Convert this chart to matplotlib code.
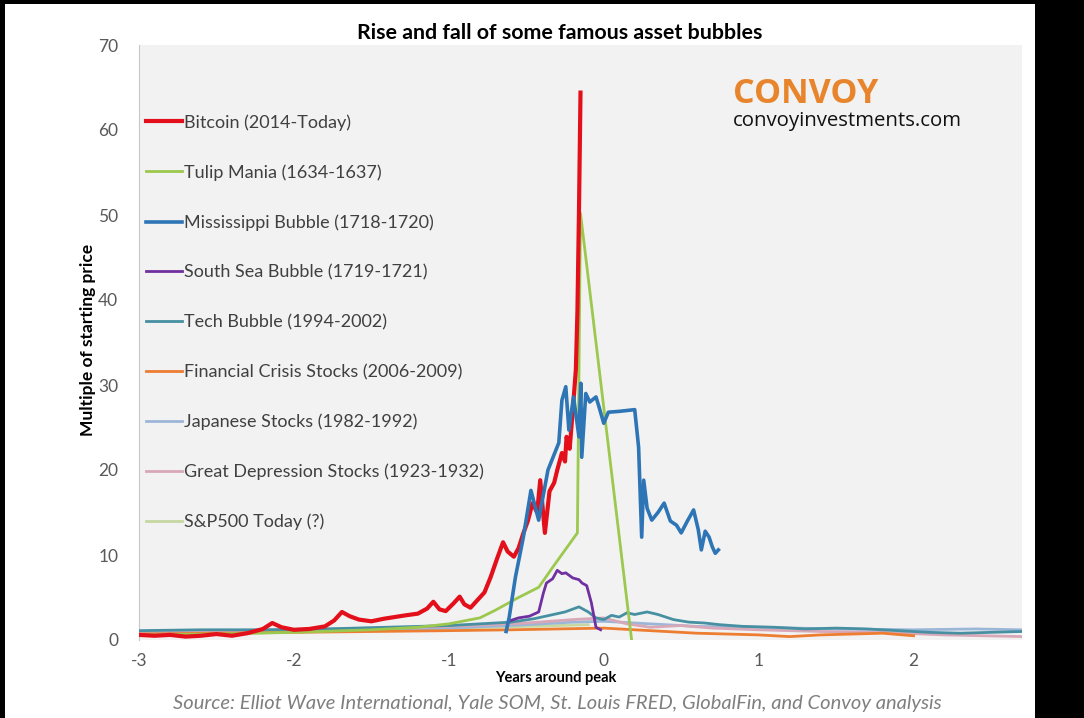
import matplotlib
matplotlib.use('Agg')
import matplotlib.pyplot as plt
from matplotlib.patches import Rectangle

plt.rcParams['font.family'] = ['Lato', 'DejaVu Sans']
plt.rcParams['axes.unicode_minus'] = False

# years around peak / multiple of starting price
bitcoin_x = [-3.0, -2.9, -2.8, -2.7, -2.6, -2.5, -2.4, -2.3, -2.2, -2.14, -2.08, -2.0, -1.9, -1.8,
             -1.74, -1.69, -1.64, -1.58, -1.5, -1.42, -1.35, -1.28, -1.2, -1.14, -1.1, -1.06, -1.02,
             -0.97, -0.93, -0.9, -0.86, -0.82, -0.77, -0.73, -0.69, -0.65, -0.62, -0.58, -0.55, -0.52,
             -0.49, -0.46, -0.43, -0.41, -0.38, -0.35, -0.32, -0.3, -0.27, -0.25, -0.24, -0.22, -0.2,
             -0.18, -0.17, -0.16, -0.15]
bitcoin_y = [0.6, 0.5, 0.6, 0.4, 0.5, 0.7, 0.5, 0.8, 1.3, 2.0, 1.5, 1.2, 1.3, 1.6,
             2.3, 3.3, 2.8, 2.4, 2.2, 2.5, 2.7, 2.9, 3.1, 3.7, 4.5, 3.6, 3.4,
             4.3, 5.1, 4.2, 3.8, 4.6, 5.6, 7.4, 9.5, 11.5, 10.4, 9.8, 10.8, 12.5,
             14.0, 16.1, 15.0, 18.8, 12.6, 17.5, 18.5, 20.0, 22.0, 21.0, 23.9, 22.5, 27.0,
             31.8, 38.5, 50.2, 64.4]

tulip_x = [-3.0, -2.5, -2.0, -1.5, -1.2, -1.0, -0.8, -0.7, -0.55, -0.42, -0.32, -0.17, -0.15, 0.18]
tulip_y = [0.6, 0.7, 0.9, 1.2, 1.5, 1.9, 2.6, 3.5, 5.0, 6.2, 8.8, 12.6, 50.2, 0.0]

missi_x = [-0.63, -0.61, -0.57, -0.52, -0.47, -0.42, -0.36, -0.29, -0.27, -0.245, -0.225, -0.195,
           -0.16, -0.148, -0.142, -0.116, -0.09, -0.05, -0.03, 0.0, 0.03, 0.1, 0.2, 0.225, 0.245,
           0.258, 0.28, 0.31, 0.35, 0.39, 0.43, 0.47, 0.5, 0.54, 0.58, 0.61, 0.63, 0.655, 0.68,
           0.7, 0.72, 0.74]
missi_y = [1.0, 2.7, 7.4, 12.0, 17.6, 14.1, 20.0, 23.2, 28.2, 29.8, 24.7, 28.6,
           23.9, 30.2, 21.5, 29.0, 28.0, 28.6, 27.4, 25.5, 26.8, 26.9, 27.1, 22.7, 12.1,
           18.8, 15.5, 14.1, 15.0, 16.1, 14.0, 13.5, 12.6, 14.0, 15.3, 13.0, 10.6, 12.8, 12.1,
           11.0, 10.2, 10.6]

south_x = [-0.6, -0.55, -0.48, -0.42, -0.39, -0.37, -0.33, -0.3, -0.27, -0.245, -0.2, -0.16,
           -0.14, -0.11, -0.08, -0.05, -0.02]
south_y = [2.3, 2.6, 2.8, 3.3, 5.5, 6.7, 7.2, 8.2, 7.8, 7.9, 7.3, 7.1, 6.7, 6.4, 4.4, 1.5, 1.2]

tech_x = [-3.0, -2.6, -2.2, -1.8, -1.4, -1.0, -0.8, -0.6, -0.45, -0.35, -0.25, -0.16, -0.1, -0.05,
          0.0, 0.05, 0.1, 0.15, 0.2, 0.28, 0.35, 0.45, 0.55, 0.65, 0.75, 0.9, 1.1, 1.3, 1.5, 1.7,
          1.9, 2.1, 2.3, 2.5, 2.7]
tech_y = [1.1, 1.2, 1.2, 1.3, 1.5, 1.7, 1.9, 2.1, 2.5, 2.9, 3.3, 3.9, 3.3, 2.6,
          2.4, 2.9, 2.7, 3.2, 3.0, 3.3, 3.0, 2.4, 2.1, 2.0, 1.8, 1.6, 1.5, 1.3, 1.4, 1.3,
          1.1, 0.9, 0.8, 0.9, 1.0]

fin_x = [-3.0, -2.5, -2.0, -1.5, -1.0, -0.6, -0.3, 0.0, 0.2, 0.4, 0.6, 0.8, 1.0, 1.2, 1.4, 1.6, 1.8, 2.0]
fin_y = [0.7, 0.8, 0.9, 1.0, 1.1, 1.2, 1.3, 1.4, 1.2, 1.0, 0.8, 0.7, 0.6, 0.4, 0.6, 0.7, 0.8, 0.5]

japan_x = [-3.0, -2.5, -2.0, -1.5, -1.0, -0.5, -0.2, 0.0, 0.3, 0.6, 1.0, 1.5, 2.0, 2.4, 2.7]
japan_y = [0.9, 0.9, 1.0, 1.2, 1.4, 1.8, 2.1, 2.2, 1.9, 1.6, 1.5, 1.3, 1.2, 1.3, 1.2]

depr_x = [-3.0, -2.5, -2.0, -1.5, -1.0, -0.5, -0.2, 0.0, 0.15, 0.3, 0.5, 0.7, 1.0, 1.4, 1.8, 2.2, 2.7]
depr_y = [1.0, 1.1, 1.2, 1.4, 1.6, 2.0, 2.4, 2.6, 1.9, 1.5, 1.7, 1.4, 1.2, 1.0, 0.9, 0.6, 0.4]

sp_x = [-3.0, -2.5, -2.0, -1.5, -1.0, -0.5, -0.1]
sp_y = [0.9, 1.0, 1.1, 1.2, 1.4, 1.6, 1.8]

labels = ['Bitcoin (2014-Today)', 'Tulip Mania (1634-1637)', 'Mississippi Bubble (1718-1720)',
          'South Sea Bubble (1719-1721)', 'Tech Bubble (1994-2002)',
          'Financial Crisis Stocks (2006-2009)', 'Japanese Stocks (1982-1992)',
          'Great Depression Stocks (1923-1932)', 'S&P500 Today (?)']
colors = ['#e3101b', '#9cc84e', '#2e75b6', '#7030a0', '#4690a2',
          '#ed7d31', '#9cb6d8', '#d8a7b8', '#c6d8a2']

W, H = 1084, 718
fig = plt.figure(figsize=(W / 100, H / 100), dpi=100, facecolor='black')
fig.patches.append(Rectangle((5 / W, 0), 1030 / W, 714 / H, transform=fig.transFigure,
                             facecolor='white', edgecolor='none', zorder=-10))

ax = fig.add_axes([139 / W, 1 - 640 / H, (1022 - 139) / W, (640 - 45) / H])
ax.set_facecolor('#f2f2f2')

series = [(bitcoin_x, bitcoin_y), (tulip_x, tulip_y), (missi_x, missi_y), (south_x, south_y),
          (tech_x, tech_y), (fin_x, fin_y), (japan_x, japan_y), (depr_x, depr_y), (sp_x, sp_y)]
widths = [3.0, 2.0, 2.6, 2.0, 2.0, 2.0, 2.0, 2.0, 2.0]
zorders = [8, 7, 9, 6, 5, 4, 3, 3, 2]

handles = []
for (xs, ys), lab, c, lw, z in zip(series, labels, colors, widths, zorders):
    h, = ax.plot(xs, ys, color=c, lw=lw, label=lab, zorder=z, solid_joinstyle='round')
    handles.append(h)

ax.set_xlim(-3, 2.7)
ax.set_ylim(0, 70)
ax.set_xticks([-3, -2, -1, 0, 1, 2])
ax.set_yticks(range(0, 71, 10))
ax.tick_params(length=0, labelsize=12.5, colors='#595959')
ax.tick_params(axis='y', pad=15)
ax.tick_params(axis='x', pad=9)
for s in ['top', 'right', 'bottom']:
    ax.spines[s].set_visible(False)
ax.spines['left'].set_color('#c8c8c8')

leg = ax.legend(handles=handles, loc='upper left', bbox_to_anchor=(146 / W, 1 - 114 / H),
                bbox_transform=fig.transFigure, frameon=False, fontsize=13,
                handlelength=2.0, handletextpad=0.1, labelspacing=1.86, borderpad=0,
                borderaxespad=0)
for t in leg.get_texts():
    t.set_color('#404040')

fig.text(560 / W, 1 - 33 / H, 'Rise and fall of some famous asset bubbles', ha='center',
         va='center', fontsize=15.4, fontweight='bold', color='black')
fig.text(733 / W, 1 - 94 / H, 'CONVOY', ha='left', va='center', fontsize=24.5,
         fontweight='bold', color='#e8852c', family='Open Sans')
fig.text(733 / W, 1 - 121 / H, 'convoyinvestments.com', ha='left', va='center', fontsize=14.7,
         color='#111111', family='Open Sans')
fig.text(88 / W, 1 - 340 / H, 'Multiple of starting price', rotation=90, ha='center',
         va='center', fontsize=12.5, fontweight='bold', color='black')
fig.text(556 / W, 1 - 678 / H, 'Years around peak', ha='center', va='center', fontsize=10.5,
         fontweight='bold', color='black')
fig.text(557 / W, 1 - 703 / H,
         'Source: Elliot Wave International, Yale SOM, St. Louis FRED, GlobalFin, and Convoy analysis',
         ha='center', va='center', fontsize=14.5, style='italic', color='#7f7f7f')

fig.savefig('out.png', dpi=100, facecolor=fig.get_facecolor())
